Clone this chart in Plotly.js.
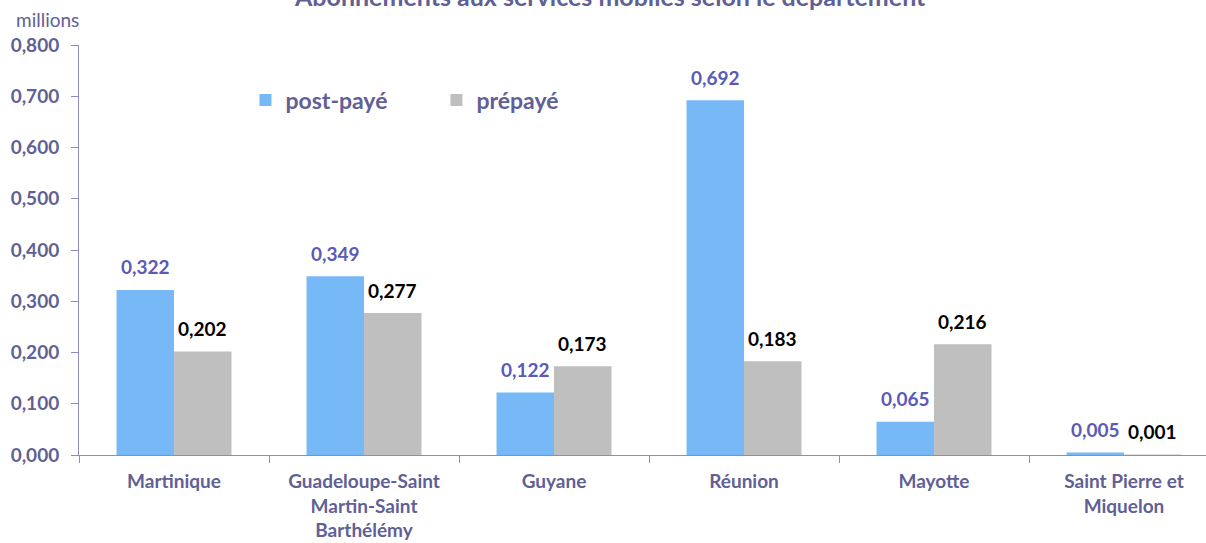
<!DOCTYPE html>
<html>
<head>
<meta charset="utf-8">
<script src="https://cdn.plot.ly/plotly-3.0.1.min.js"></script>
<style>
html,body{margin:0;padding:0;overflow:hidden;background:#fff;}
#chart{width:1220px;height:543px;}
</style>
</head>
<body>
<div id="chart"></div>
<script>
var categories = ["Martinique", "Guadeloupe-Saint<br>Martin-Saint<br>Barthélémy", "Guyane", "Réunion", "Mayotte", "Saint Pierre et<br>Miquelon"];
var postPaye = [0.322, 0.349, 0.122, 0.692, 0.065, 0.005];
var prepaye = [0.202, 0.277, 0.173, 0.183, 0.216, 0.001];
var yTicks = [0, 0.1, 0.2, 0.3, 0.4, 0.5, 0.6, 0.7, 0.8];

var FONT = "Lato, 'Open Sans', sans-serif";
var TXT = "#5f6096";
var AXIS = "#8c8cbf";
var BLUE = "#77b9f7";
var GRAY = "#bfbfbf";

function fmt(v){ return v.toFixed(3).replace('.', ','); }

var traces = [
  {type:'bar', name:'post-payé', x:categories, y:postPaye, marker:{color:BLUE}},
  {type:'bar', name:'prépayé', x:categories, y:prepaye, marker:{color:GRAY}}
];

var annotations = [];
var off = 28.75;
categories.forEach(function(c, i){
  annotations.push({x:c, y:postPaye[i], xref:'x', yref:'y', xshift:-off, yshift:23, yanchor:'middle',
    text:fmt(postPaye[i]), showarrow:false, font:{family:FONT, size:19, color:'#5a5ab8', weight:'bold'}});
  annotations.push({x:c, y:prepaye[i], xref:'x', yref:'y', xshift:off, yshift:23, yanchor:'middle',
    text:fmt(prepaye[i]), showarrow:false, font:{family:FONT, size:19, color:'#000000', weight:'bold'}});
});
annotations.push({x:0.466, y:1.12, xref:'paper', yref:'paper', xanchor:'center', yanchor:'middle',
  text:'Abonnements aux services mobiles selon le département', showarrow:false,
  font:{family:FONT, size:25, color:TXT, weight:'bold'}});
annotations.push({x:-0.028, y:1.061, xref:'paper', yref:'paper', xanchor:'center', yanchor:'middle',
  text:'millions', showarrow:false, font:{family:FONT, size:19, color:TXT}});

var layout = {
  width:1220, height:543,
  margin:{l:79, r:1, t:45, b:88},
  paper_bgcolor:'#fff', plot_bgcolor:'#fff',
  separators:', ',
  barmode:'group', bargap:0.395, bargroupgap:0,
  font:{family:FONT, color:TXT},
  showlegend:true,
  legend:{orientation:'h', x:0.146, y:0.866, xanchor:'left', yanchor:'middle',
    font:{family:FONT, size:23, color:TXT, weight:'bold'}, bgcolor:'rgba(0,0,0,0)',
    entrywidth:146, entrywidthmode:'pixels'},
  xaxis:{type:'category', showline:true, linecolor:AXIS, linewidth:1, ticks:'outside', tickson:'boundaries',
    ticklen:7, tickcolor:AXIS, showgrid:false, zeroline:false, ticklabelstandoff:9,
    tickfont:{family:FONT, size:19, color:TXT, weight:'bold'}},
  yaxis:{range:[0,0.8], tickvals:yTicks, tickformat:'.3f', showline:true, linecolor:AXIS, linewidth:1,
    ticks:'outside', ticklen:7, tickcolor:AXIS, showgrid:false, zeroline:false, ticklabelstandoff:8,
    tickfont:{family:FONT, size:19, color:TXT, weight:'bold'}},
  annotations:annotations
};

Plotly.newPlot('chart', traces, layout, {displayModeBar:false, staticPlot:true});
</script>
</body>
</html>
